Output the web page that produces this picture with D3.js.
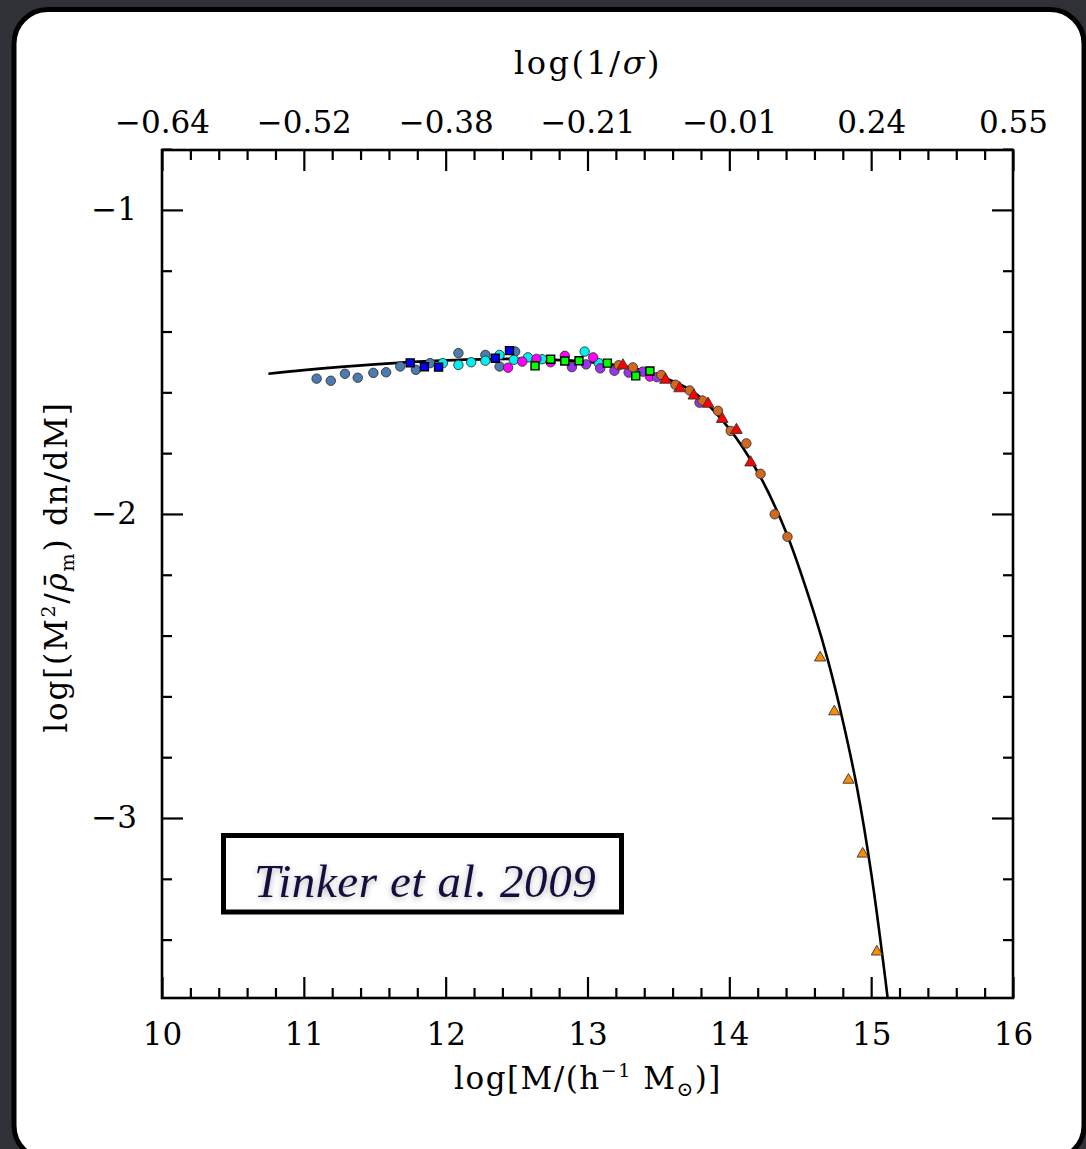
<!DOCTYPE html>
<html>
<head>
<meta charset="utf-8">
<script src="https://cdn.jsdelivr.net/npm/d3@7"></script>
<style>
  html, body { margin: 0; padding: 0; background: #2f3137; }
  svg { display: block; }
</style>
</head>
<body>
<script>
// points: [log M, log(M^2/rho dn/dM)]
const steelblueCircles = [[11.09,-1.555],[11.19,-1.562],[11.29,-1.539],[11.38,-1.552],[11.49,-1.536],[11.58,-1.534],
  [11.68,-1.515],[11.79,-1.526],[11.89,-1.504],[12.09,-1.471],[12.28,-1.477],[12.38,-1.515],[12.49,-1.466]]
const blueSquares = [[11.75,-1.503],[11.85,-1.516],[11.95,-1.517],[12.35,-1.488],[12.45,-1.463]]
const cyanCircles = [[11.98,-1.504],[12.09,-1.510],[12.18,-1.501],[12.28,-1.496],[12.38,-1.477],[12.48,-1.493],
  [12.58,-1.485],[12.68,-1.491],[12.98,-1.466],[13.08,-1.504]]
const magentaCircles = [[12.44,-1.519],[12.54,-1.499],[12.64,-1.490],[12.74,-1.501],[12.84,-1.480],[13.04,-1.485],[13.44,-1.548]]
const purpleCircles = [[12.89,-1.517],[12.99,-1.508],[13.09,-1.521],[13.19,-1.529],[13.29,-1.535],[13.39,-1.532],
  [13.49,-1.550],[13.79,-1.634]]
const greenSquares = [[12.63,-1.513],[12.74,-1.491],[12.84,-1.497],[12.94,-1.496],[13.14,-1.504],[13.34,-1.546],[13.44,-1.530]]
const brownCircles = [[13.22,-1.511],[13.32,-1.518],[13.52,-1.543],[13.62,-1.575],[13.72,-1.594],[13.81,-1.627],
  [13.92,-1.661],[14.01,-1.727],[14.12,-1.768],[14.22,-1.868],[14.32,-2.001],[14.41,-2.075]]
const redTriangles = [[13.25,-1.512],[13.55,-1.559],[13.65,-1.587],[13.75,-1.611],[13.85,-1.638],[13.95,-1.688],
  [14.05,-1.724],[14.15,-1.831]]
const orangeTriangles = [[14.64,-2.473],[14.74,-2.650],[14.84,-2.875],[14.94,-3.118],[15.04,-3.440]]

// fit curve
const fitX = [10.75, 11.0, 11.5, 12.0, 12.5, 13.0, 13.3, 13.5, 13.75, 14.0, 14.2, 14.4, 14.6, 14.7, 14.8, 14.9, 15.0, 15.1, 15.14]
const fitY = [-1.539, -1.527, -1.508, -1.495, -1.490, -1.500, -1.518, -1.545, -1.60, -1.72, -1.862, -2.06, -2.33, -2.49, -2.68, -2.90, -3.18, -3.53, -3.69]

const massTicks = [10, 11, 12, 13, 14, 15, 16]
const sigmaLabels = ['\u22120.64', '\u22120.52', '\u22120.38', '\u22120.21', '\u22120.01', '0.24', '0.55']
const fnTicks = [-1, -2, -3]

const width = 1086, height = 1149
const margin = {left: 162, right: 73, top: 150, bottom: 151}
const serif = '"DejaVu Serif", serif'

const svg = d3.select('body').append('svg')
  .attr('width', width)
  .attr('height', height)

const defs = svg.append('defs')
const glow = defs.append('filter').attr('id', 'glow')
  .attr('x', '-10%').attr('y', '-30%').attr('width', '120%').attr('height', '160%')
glow.append('feGaussianBlur').attr('in', 'SourceAlpha').attr('stdDeviation', 3).attr('result', 'b')
glow.append('feOffset').attr('in', 'b').attr('dy', 2).attr('result', 'o')
glow.append('feComponentTransfer').attr('in', 'o').attr('result', 's')
  .append('feFuncA').attr('type', 'linear').attr('slope', 0.3)
const merge = glow.append('feMerge')
merge.append('feMergeNode').attr('in', 's')
merge.append('feMergeNode').attr('in', 'SourceGraphic')

defs.append('clipPath').attr('id', 'plot-clip')
  .append('rect')
  .attr('x', margin.left).attr('y', margin.top)
  .attr('width', width - margin.left - margin.right)
  .attr('height', height - margin.top - margin.bottom)

// slide panel
svg.append('rect')
  .attr('x', 14).attr('y', 9.5)
  .attr('width', 1070).attr('height', 1150)
  .attr('rx', 34)
  .attr('fill', '#fff')
  .attr('stroke', '#000')
  .attr('stroke-width', 5)

const x = d3.scaleLinear()
  .domain([10, 16])
  .range([margin.left, width - margin.right])

const y = d3.scaleLinear()
  .domain([-3.592, -0.803])
  .range([height - margin.bottom, margin.top])

const minorX = d3.range(10, 16.001, 0.2).filter(v => Math.abs(v - Math.round(v)) > 0.01)
const minorY = d3.range(-3.4, -0.79, 0.2).filter(v => Math.abs(v - Math.round(v)) > 0.01)

const styleAxis = g => g
  .call(g => g.select('.domain').remove())
  .call(g => g.selectAll('line').attr('stroke', '#000').attr('stroke-width', 2.2))
  .call(g => g.selectAll('text').attr('font-family', serif).attr('font-size', 31).attr('fill', '#000'))

const plotBottom = height - margin.bottom
const plotRight = width - margin.right

svg.append('g')
  .attr('transform', `translate(0,${plotBottom})`)
  .call(d3.axisBottom(x).tickValues(minorX).tickSize(-10).tickFormat(''))
  .call(styleAxis)
svg.append('g')
  .attr('transform', `translate(0,${plotBottom})`)
  .call(d3.axisBottom(x).tickValues(massTicks).tickSize(-21).tickPadding(25).tickFormat(d3.format('d')))
  .call(styleAxis)

svg.append('g')
  .attr('transform', `translate(0,${margin.top})`)
  .call(d3.axisTop(x).tickValues(minorX).tickSize(-10).tickFormat(''))
  .call(styleAxis)
svg.append('g')
  .attr('transform', `translate(0,${margin.top})`)
  .call(d3.axisTop(x).tickValues(massTicks).tickSize(-21).tickPadding(17).tickFormat((d, i) => sigmaLabels[i]))
  .call(styleAxis)

svg.append('g')
  .attr('transform', `translate(${margin.left},0)`)
  .call(d3.axisLeft(y).tickValues(minorY).tickSize(-10).tickFormat(''))
  .call(styleAxis)
svg.append('g')
  .attr('transform', `translate(${margin.left},0)`)
  .call(d3.axisLeft(y).tickValues(fnTicks).tickSize(-21).tickPadding(25).tickFormat(d3.format('d')))
  .call(styleAxis)

svg.append('g')
  .attr('transform', `translate(${plotRight},0)`)
  .call(d3.axisRight(y).tickValues(minorY).tickSize(-10).tickFormat(''))
  .call(styleAxis)
svg.append('g')
  .attr('transform', `translate(${plotRight},0)`)
  .call(d3.axisRight(y).tickValues(fnTicks).tickSize(-21).tickFormat(''))
  .call(styleAxis)

svg.append('rect')
  .attr('x', margin.left).attr('y', margin.top)
  .attr('width', plotRight - margin.left)
  .attr('height', plotBottom - margin.top)
  .attr('fill', 'none')
  .attr('stroke', '#000')
  .attr('stroke-width', 2.6)

// axis titles
const topTitle = svg.append('text')
  .attr('x', 588).attr('y', 74)
  .attr('text-anchor', 'middle')
  .attr('font-family', serif).attr('font-size', 32)
  .attr('letter-spacing', 2.5)
topTitle.append('tspan').text('log(1/')
topTitle.append('tspan').attr('font-style', 'italic').text('\u03c3')
topTitle.append('tspan').text(')')

const bottomTitle = svg.append('text')
  .attr('x', 588).attr('y', 1089)
  .attr('text-anchor', 'middle')
  .attr('font-family', serif).attr('font-size', 31)
  .attr('letter-spacing', 1.5)
bottomTitle.append('tspan').text('log[M/(h')
bottomTitle.append('tspan').attr('font-size', 19).attr('dy', -12).text('\u22121')
bottomTitle.append('tspan').attr('dy', 12).text(' M')
bottomTitle.append('tspan').attr('font-size', 20).attr('dy', 7).text('\u2299')
bottomTitle.append('tspan').attr('dy', -7).text(')]')

const leftTitle = svg.append('text')
  .attr('transform', 'translate(67,567) rotate(-90)')
  .attr('text-anchor', 'middle')
  .attr('font-family', serif).attr('font-size', 31)
  .attr('letter-spacing', 1.8)
leftTitle.append('tspan').text('log[(M')
leftTitle.append('tspan').attr('font-size', 19).attr('dy', -12).text('2')
leftTitle.append('tspan').attr('dy', 12).text('/')
leftTitle.append('tspan').attr('font-style', 'italic').text('\u03c1\u0304')
leftTitle.append('tspan').attr('font-size', 19).attr('dy', 7).text('m')
leftTitle.append('tspan').attr('dy', -7).text(') dn/dM]')

// fit
const line = d3.line()
  .x(d => x(d[0]))
  .y(d => y(d[1]))
  .curve(d3.curveCatmullRom)

svg.append('path')
  .datum(d3.zip(fitX, fitY))
  .attr('clip-path', 'url(#plot-clip)')
  .attr('d', line)
  .attr('fill', 'none')
  .attr('stroke', '#000')
  .attr('stroke-width', 2.6)

const series = [
  {data: steelblueCircles, symbol: d3.symbolCircle, size: 70, fill: '#4a7cb0'},
  {data: cyanCircles, symbol: d3.symbolCircle, size: 70, fill: '#00f0f0'},
  {data: blueSquares, symbol: d3.symbolSquare, size: 64, fill: '#0000ff'},
  {data: magentaCircles, symbol: d3.symbolCircle, size: 70, fill: '#ff00ff'},
  {data: purpleCircles, symbol: d3.symbolCircle, size: 70, fill: '#9933ee'},
  {data: greenSquares, symbol: d3.symbolSquare, size: 64, fill: '#00ff00'},
  {data: brownCircles, symbol: d3.symbolCircle, size: 70, fill: '#d2691e'},
  {data: redTriangles, symbol: d3.symbolTriangle, size: 60, fill: '#ff0000'},
  {data: orangeTriangles, symbol: d3.symbolTriangle, size: 54, fill: '#ff8c00'}
]

const dots = svg.append('g').attr('class', 'points')
series.forEach(s => {
  dots.append('g')
    .selectAll('path')
    .data(s.data)
    .join('path')
    .attr('transform', d => `translate(${x(d[0])},${y(d[1])})`)
    .attr('d', d3.symbol(s.symbol, s.size))
    .attr('fill', s.fill)
    .attr('stroke', s.symbol == d3.symbolSquare ? '#000' : '#333')
    .attr('stroke-width', s.symbol == d3.symbolSquare ? 1.4 : 0.9)
})

// citation box
svg.append('rect')
  .attr('x', 223.5).attr('y', 835.5)
  .attr('width', 398).attr('height', 76.5)
  .attr('fill', '#fff')
  .attr('stroke', '#000')
  .attr('stroke-width', 5)

svg.append('text')
  .attr('x', 254).attr('y', 897)
  .attr('font-family', '"Liberation Serif", "Times New Roman", Times, serif')
  .attr('font-style', 'italic')
  .attr('font-size', 47)
  .attr('letter-spacing', 0.6)
  .attr('fill', '#150d3e')
  .attr('filter', 'url(#glow)')
  .text('Tinker et al. 2009')
</script>
</body>
</html>
